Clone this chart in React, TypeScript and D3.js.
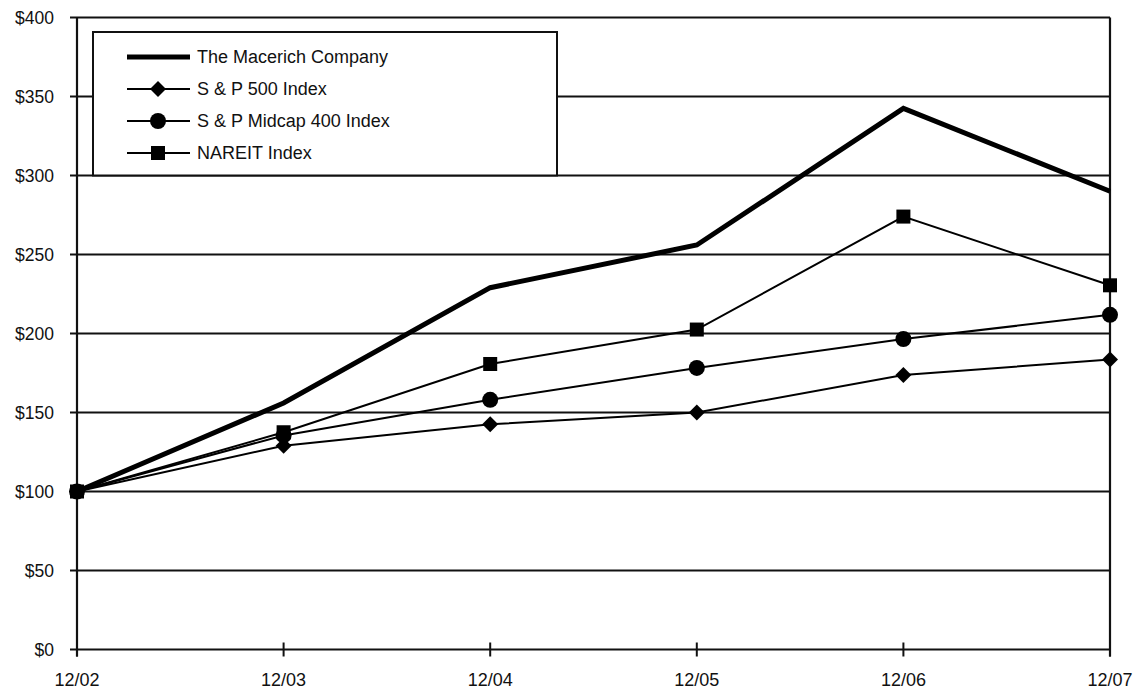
import React from "react";
import * as d3 from "d3";

const categories = ["12/02", "12/03", "12/04", "12/05", "12/06", "12/07"];
const macerich = [100, 156, 229, 256, 342.5, 290];
const sp500 = [100, 129, 142.5, 150, 173.7, 183.5];
const midcap = [100, 135.5, 158, 178.2, 196.5, 211.8];
const nareit = [100, 137.5, 180.7, 202.5, 274, 230.5];
const yTicks = [0, 50, 100, 150, 200, 250, 300, 350, 400];
const seriesNames = ["The Macerich Company", "S & P 500 Index", "S & P Midcap 400 Index", "NAREIT Index"];

const W = 1137;
const H = 690;
const left = 77;
const right = 1110;
const top = 17.5;
const bottom = 649.5;
const FONT = "'Liberation Sans', Arial, Helvetica, sans-serif";

type Marker = "none" | "diamond" | "circle" | "square";

function MarkerShape({ kind, x, y }: { kind: Marker; x: number; y: number }) {
  if (kind === "diamond") {
    const s = 8;
    return <path d={`M${x},${y - s}L${x + s},${y}L${x},${y + s}L${x - s},${y}Z`} fill="#000" />;
  }
  if (kind === "circle") return <circle cx={x} cy={y} r={8} fill="#000" />;
  if (kind === "square") return <rect x={x - 7} y={y - 7} width={14} height={14} fill="#000" />;
  return null;
}

export default function App() {
  const x = d3.scalePoint<string>().domain(categories).range([left, right]);
  const y = d3.scaleLinear().domain([0, 400]).range([bottom, top]);
  const line = d3
    .line<number>()
    .x((_, i) => x(categories[i]) as number)
    .y((d) => y(d));

  const series: { name: string; values: number[]; width: number; marker: Marker }[] = [
    { name: seriesNames[0], values: macerich, width: 5, marker: "none" },
    { name: seriesNames[1], values: sp500, width: 2, marker: "diamond" },
    { name: seriesNames[2], values: midcap, width: 2, marker: "circle" },
    { name: seriesNames[3], values: nareit, width: 2, marker: "square" },
  ];

  const legendRows = [57, 89, 121, 153];

  return (
    <svg
      width={W}
      height={H}
      style={{ position: "absolute", left: 0, top: 0, background: "#fff" }}
      fontFamily={FONT}
    >
      <rect x={0} y={0} width={W} height={H} fill="#fff" />
      {/* gridlines */}
      {yTicks.map((t) => (
        <g key={t}>
          <line x1={left - 7} x2={right} y1={y(t)} y2={y(t)} stroke="#111" strokeWidth={2} />
          <text x={54} y={y(t)} dy="0.35em" textAnchor="end" fontSize={17.5} fill="#111">
            {`$${t}`}
          </text>
        </g>
      ))}
      {/* axes */}
      <line x1={left} x2={left} y1={top} y2={bottom + 7} stroke="#111" strokeWidth={2.2} />
      <line x1={right} x2={right} y1={top} y2={bottom + 7} stroke="#111" strokeWidth={2.2} />
      {categories.map((c) => (
        <g key={c}>
          <line x1={x(c)} x2={x(c)} y1={bottom - 7} y2={bottom + 7} stroke="#111" strokeWidth={2} />
          <text x={x(c)} y={686} textAnchor="middle" fontSize={18} fill="#111">
            {c}
          </text>
        </g>
      ))}
      {/* legend */}
      <rect x={93} y={32} width={464} height={y(300) - 32} fill="#fff" stroke="#111" strokeWidth={2} />
      {series.map((s, i) => (
        <g key={s.name}>
          <line x1={127} x2={190} y1={legendRows[i]} y2={legendRows[i]} stroke="#000" strokeWidth={s.width} />
          <MarkerShape kind={s.marker} x={158} y={legendRows[i]} />
          <text x={197} y={legendRows[i]} dy="0.36em" fontSize={18} fill="#111">
            {s.name}
          </text>
        </g>
      ))}
      {/* series */}
      {series
        .slice()
        .reverse()
        .map((s) => (
          <g key={s.name}>
            <path d={line(s.values) || ""} fill="none" stroke="#000" strokeWidth={s.width} strokeLinejoin="miter" />
            {s.values.map((v, i) => (
              <MarkerShape key={i} kind={s.marker} x={x(categories[i]) as number} y={y(v)} />
            ))}
          </g>
        ))}
    </svg>
  );
}
